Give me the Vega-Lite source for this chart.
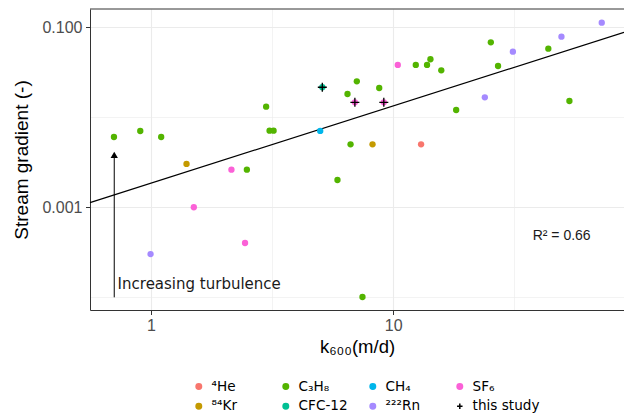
{
  "$schema": "https://vega.github.io/schema/vega-lite/v6.json",
  "autosize": {"type": "none"},
  "padding": {"left": 90, "top": 9, "right": 0, "bottom": 107},
  "width": 534,
  "height": 301,
  "background": "white",
  "config": {
    "view": {"stroke": null},
    "axis": {
      "labelFont": "Liberation Sans",
      "labelFontSize": 16,
      "labelColor": "#4D4D4D",
      "titleFont": "Liberation Sans",
      "titleFontSize": 17,
      "titleFontWeight": "normal",
      "titleColor": "#000000",
      "gridColor": "#EBEBEB",
      "tickColor": "#333333",
      "tickSize": 4.5,
      "domainColor": "#333333",
      "domainWidth": 1
    }
  },
  "datasets": {
    "points": [
      {"k600": 0.704, "gradient": 0.0060, "series": "C₃H₈"},
      {"k600": 0.904, "gradient": 0.00699, "series": "C₃H₈"},
      {"k600": 1.103, "gradient": 0.0060, "series": "C₃H₈"},
      {"k600": 2.49, "gradient": 0.0026, "series": "C₃H₈"},
      {"k600": 2.99, "gradient": 0.01303, "series": "C₃H₈"},
      {"k600": 3.09, "gradient": 0.00705, "series": "C₃H₈"},
      {"k600": 3.21, "gradient": 0.00705, "series": "C₃H₈"},
      {"k600": 5.89, "gradient": 0.001995, "series": "C₃H₈"},
      {"k600": 6.48, "gradient": 0.018, "series": "C₃H₈"},
      {"k600": 7.08, "gradient": 0.0249, "series": "C₃H₈"},
      {"k600": 6.67, "gradient": 0.00497, "series": "C₃H₈"},
      {"k600": 7.47, "gradient": 0.0001, "series": "C₃H₈"},
      {"k600": 8.76, "gradient": 0.0210, "series": "C₃H₈"},
      {"k600": 12.4, "gradient": 0.0379, "series": "C₃H₈"},
      {"k600": 13.8, "gradient": 0.0379, "series": "C₃H₈"},
      {"k600": 14.25, "gradient": 0.0438, "series": "C₃H₈"},
      {"k600": 15.8, "gradient": 0.033, "series": "C₃H₈"},
      {"k600": 18.2, "gradient": 0.01196, "series": "C₃H₈"},
      {"k600": 25.3, "gradient": 0.0676, "series": "C₃H₈"},
      {"k600": 27.1, "gradient": 0.0369, "series": "C₃H₈"},
      {"k600": 43.7, "gradient": 0.0574, "series": "C₃H₈"},
      {"k600": 53.4, "gradient": 0.01507, "series": "C₃H₈"},
      {"k600": 0.997, "gradient": 0.0003, "series": "²²²Rn"},
      {"k600": 23.9, "gradient": 0.01655, "series": "²²²Rn"},
      {"k600": 31.2, "gradient": 0.0532, "series": "²²²Rn"},
      {"k600": 49.5, "gradient": 0.078, "series": "²²²Rn"},
      {"k600": 72.6, "gradient": 0.1117, "series": "²²²Rn"},
      {"k600": 1.504, "gradient": 0.000993, "series": "SF₆"},
      {"k600": 2.15, "gradient": 0.0026, "series": "SF₆"},
      {"k600": 2.447, "gradient": 0.000398, "series": "SF₆"},
      {"k600": 6.95, "gradient": 0.01456, "series": "SF₆"},
      {"k600": 9.15, "gradient": 0.01456, "series": "SF₆"},
      {"k600": 10.45, "gradient": 0.0379, "series": "SF₆"},
      {"k600": 1.403, "gradient": 0.00301, "series": "⁸⁴Kr"},
      {"k600": 8.22, "gradient": 0.00497, "series": "⁸⁴Kr"},
      {"k600": 13.04, "gradient": 0.00497, "series": "⁴He"},
      {"k600": 5.0, "gradient": 0.0070, "series": "CH₄"},
      {"k600": 5.10, "gradient": 0.0214, "series": "CFC-12"}
    ],
    "study": [
      {"k600": 5.10, "gradient": 0.0214, "series": "this study"},
      {"k600": 6.95, "gradient": 0.01456, "series": "this study"},
      {"k600": 9.15, "gradient": 0.01456, "series": "this study"}
    ],
    "fit": [
      {"k600": 0.5607, "gradient": 0.001117},
      {"k600": 89.7, "gradient": 0.0874}
    ],
    "arrow": [
      {"k600": 0.706, "from": 0.0000992, "to": 0.0036, "tip": 0.0038}
    ],
    "notes": [
      {"k600": 0.729, "gradient": 0.0001227, "label": "Increasing turbulence", "kind": "turb"},
      {"k600": 49.6, "gradient": 0.00043, "label": "R² = 0.66", "kind": "r2"}
    ],
    "frame": [
      {"top": 0.158489}
    ]
  },
  "encoding": {
    "x": {
      "field": "k600",
      "type": "quantitative",
      "scale": {"type": "log", "domain": [0.5607, 89.7], "nice": false, "zero": false},
      "axis": {
        "title": "k₆₀₀(m/d)",
        "titleFontSize": 18.5,
        "values": [1, 3.16228, 10, 31.6228],
        "labelExpr": "datum.value === 1 ? '1' : datum.value === 10 ? '10' : ''",
        "tickOpacity": {"condition": {"test": "datum.value === 1 || datum.value === 10", "value": 1}, "value": 0},
        "gridWidth": {"condition": {"test": "datum.value === 1 || datum.value === 10", "value": 1.1}, "value": 0.6},
        "labelPadding": 3,
        "titlePadding": 3.5
      }
    },
    "y": {
      "field": "gradient",
      "type": "quantitative",
      "scale": {"type": "log", "domain": [0.00007171, 0.158489], "nice": false, "zero": false},
      "axis": {
        "title": "Stream gradient (-)",
        "titleFontSize": 19,
        "values": [0.0001, 0.001, 0.01, 0.1],
        "labelExpr": "datum.value === 0.1 ? '0.100' : datum.value === 0.001 ? '0.001' : ''",
        "tickOpacity": {"condition": {"test": "datum.value === 0.1 || datum.value === 0.001", "value": 1}, "value": 0},
        "gridWidth": {"condition": {"test": "datum.value === 0.1 || datum.value === 0.001", "value": 1.1}, "value": 0.6},
        "labelPadding": 3.5,
        "titlePadding": 10
      }
    }
  },
  "layer": [
    {
      "data": {"name": "frame"},
      "mark": {"type": "rule", "color": "#333333", "strokeWidth": 1},
      "encoding": {"y": {"field": "top", "type": "quantitative"}, "x": null}
    },
    {
      "data": {"name": "fit"},
      "mark": {"type": "line", "color": "black", "strokeWidth": 1.2},
      "encoding": {}
    },
    {
      "data": {"name": "arrow"},
      "mark": {"type": "rule", "color": "black", "strokeWidth": 1},
      "encoding": {"y": {"field": "from", "type": "quantitative"}, "y2": {"field": "to"}}
    },
    {
      "data": {"name": "arrow"},
      "mark": {"type": "point", "shape": "M0,-1L1.16,1L-1.16,1Z", "size": 40, "filled": true, "color": "black", "opacity": 1},
      "encoding": {"y": {"field": "tip", "type": "quantitative"}}
    },
    {
      "data": {"name": "points"},
      "mark": {"type": "point", "filled": true, "size": 40, "opacity": 1},
      "encoding": {
        "color": {
          "field": "series",
          "type": "nominal",
          "scale": {
            "domain": ["⁴He", "C₃H₈", "CH₄", "SF₆", "⁸⁴Kr", "CFC-12", "²²²Rn", "this study"],
            "range": ["#F8766D", "#53B400", "#00B6EB", "#FB61D7", "#C49A00", "#00C094", "#A58AFF", "#000000"]
          },
          "legend": {
            "title": null,
            "orient": "none",
            "legendX": 102,
            "legendY": 370.5,
            "direction": "horizontal",
            "columns": 4,
            "gridAlign": "all",
            "columnPadding": 0,
            "rowPadding": 5,
            "padding": 0,
            "labelFont": "DejaVu Sans",
            "labelFontSize": 13.6,
            "labelColor": "#000000",
            "labelOffset": 6,
            "labelLimit": 200,
            "symbolSize": 30,
            "encode": {
              "symbols": {
                "update": {
                  "stroke": {"scale": "color", "field": "value"},
                  "strokeWidth": {"value": 1.2},
                  "size": [{"test": "datum.value === 'this study'", "value": 70}, {"value": 28}]
                }
              }
            }
          }
        },
        "shape": {
          "field": "series",
          "type": "nominal",
          "scale": {
            "domain": ["⁴He", "C₃H₈", "CH₄", "SF₆", "⁸⁴Kr", "CFC-12", "²²²Rn", "this study"],
            "range": ["circle", "circle", "circle", "circle", "circle", "circle", "circle", "M-1,0H1M0,-1V1"]
          }
        }
      }
    },
    {
      "data": {"name": "study"},
      "mark": {"type": "point", "filled": false, "size": 81, "strokeWidth": 1.3, "opacity": 1},
      "encoding": {
        "color": {"field": "series", "type": "nominal"},
        "shape": {"field": "series", "type": "nominal"}
      }
    },
    {
      "data": {"name": "notes"},
      "transform": [{"filter": "datum.kind === 'turb'"}],
      "mark": {"type": "text", "font": "DejaVu Sans", "fontSize": 15, "align": "left", "baseline": "alphabetic", "color": "#1A1A1A"},
      "encoding": {"text": {"field": "label"}}
    },
    {
      "data": {"name": "notes"},
      "transform": [{"filter": "datum.kind === 'r2'"}],
      "mark": {"type": "text", "font": "Liberation Sans", "fontSize": 14, "align": "center", "baseline": "alphabetic", "color": "#1A1A1A"},
      "encoding": {"text": {"field": "label"}}
    }
  ]
}
